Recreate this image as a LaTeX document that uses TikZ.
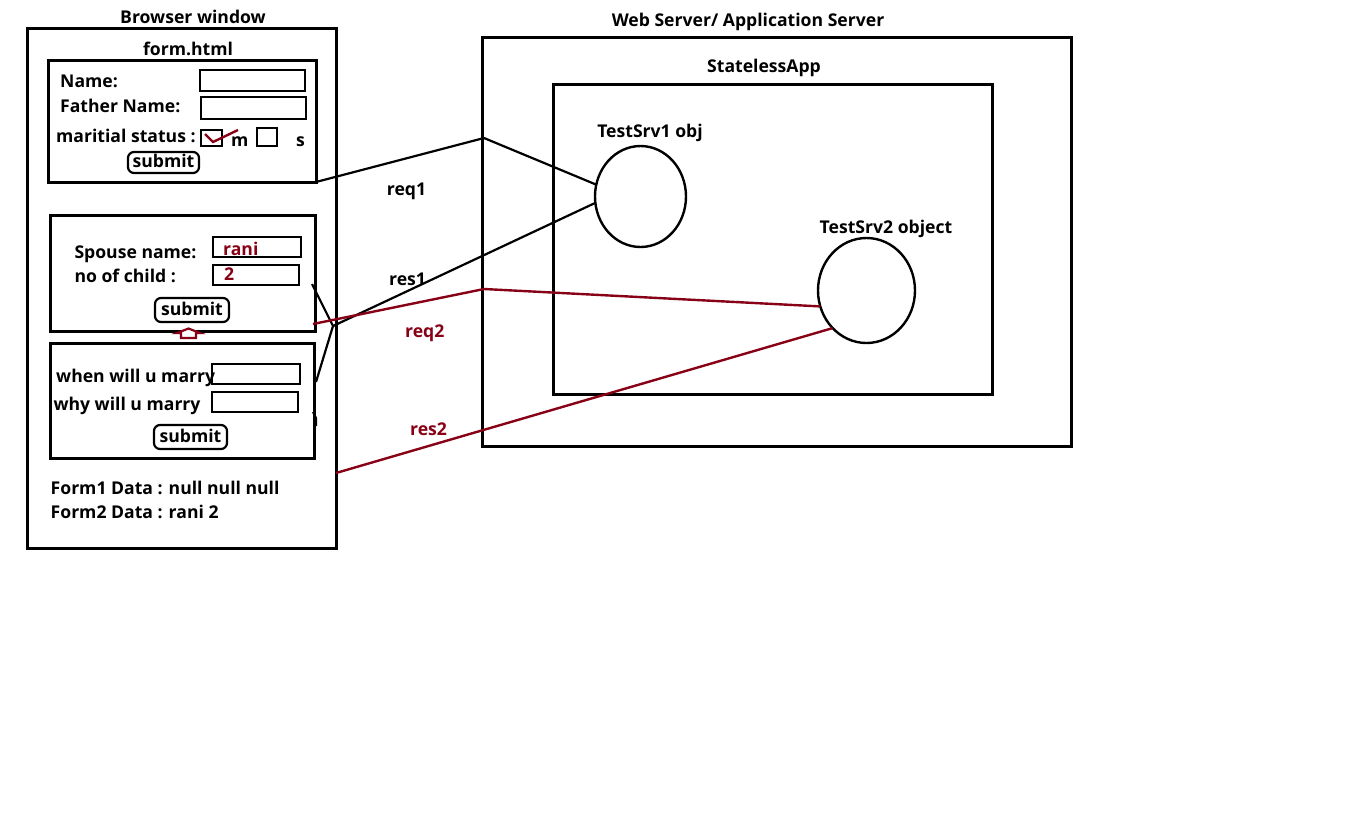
\documentclass[tikz,border=0pt]{standalone}
\usepackage{fontspec}
\setmainfont{Open Sans}
\usetikzlibrary{shapes.geometric}
\definecolor{dred}{RGB}{136,0,21}
\tikzset{
  box/.style={draw, line width=3pt, inner sep=0pt, outer sep=0pt, anchor=north west},
  field/.style={draw, line width=2.6pt, inner sep=0pt, outer sep=0pt, anchor=north west},
  btn/.style={draw, line width=2.2pt, rounded corners=6pt, inner sep=0pt, outer sep=0pt, anchor=north west},
  lbl/.style={anchor=base west, inner sep=0pt, font=\bfseries\fontsize{17.6}{20}\selectfont},
  ctr/.style={anchor=base, inner sep=0pt, font=\bfseries\fontsize{17.6}{20}\selectfont},
  obj/.style={draw, ellipse, line width=2.4pt, inner sep=0pt, outer sep=0pt},
  wire/.style={line width=2.2pt},
  rwire/.style={line width=2.4pt, draw=dred}
}
\begin{document}
\begin{tikzpicture}[x=1pt,y=-1pt]
\useasboundingbox (0,0) rectangle (1358,831);
% browser
\node[ctr] (tbw) at (193,23.5) {Browser window};
\node[box, minimum width=309pt, minimum height=520pt] (bw) at (27,28) {};
\node[ctr] (tform) at (188,55) {form.html};
% form 1
\node[box, minimum width=268pt, minimum height=122pt] (f1) at (48,60) {};
\node[lbl] (lname) at (60,87.2) {Name:};
\node[field, minimum width=105pt, minimum height=21pt] (fname) at (200,70) {};
\node[lbl] (lfather) at (60,112.2) {Father Name:};
\node[field, minimum width=105pt, minimum height=22pt] (ffather) at (201,97) {};
\node[lbl] (lstatus) at (56,142.2) {maritial status :};
\node[field, minimum width=21pt, minimum height=16pt] (cm) at (201,130) {};
\node[lbl] (lm) at (231,146) {m};
\node[field, minimum width=20pt, minimum height=18pt] (cs) at (257,128) {};
\node[lbl] (ls) at (296,146) {s};
\draw[rwire, line width=2.4pt] (cm.north west) ++(4,4) coordinate (ck1) -- ++(8,8) coordinate (ck2) -- (238,130) coordinate (ck3);
\node[btn, minimum width=71pt, minimum height=21pt] (b1) at (128,152) {};
\node[ctr] (tb1) at (b1.center |- 0,167.3) {submit};
% form 2
\node[box, minimum width=265pt, minimum height=116pt] (f2) at (50,215) {};
\node[lbl] (lspouse) at (74.3,258.6) {Spouse name:};
\node[field, minimum width=88pt, minimum height=20pt] (fspouse) at (213,237) {};
\node[lbl, text=dred] (vrani) at (223,255.3) {rani};
\node[lbl] (lchild) at (74.3,282) {no of child :};
\node[field, minimum width=86pt, minimum height=20pt] (fchild) at (213,265) {};
\node[lbl, text=dred] (v2) at (224,280.3) {2};
\node[btn, minimum width=74pt, minimum height=24pt] (b2) at (155,298) {};
\node[ctr] (tb2) at (b2.center |- 0,315.3) {submit};
% little arrow
\draw[dred, line width=2.2pt, fill=white] (181,338) -- (181,333) -- (177,333) -- (188.5,328.5) -- (200,333) -- (196,333) -- (196,338) -- cycle;
% form 3
\node[box, minimum width=264pt, minimum height=115pt] (f3) at (50,343) {};
\node[lbl] (lwhen) at (56,382) {when will u marry};
\node[field, minimum width=88pt, minimum height=20pt] (fwhen) at (212,364) {};
\node[lbl] (lwhy) at (53.3,410.3) {why will u marry};
\node[field, minimum width=86pt, minimum height=20pt] (fwhy) at (212,392) {};
\node[btn, minimum width=73pt, minimum height=24pt] (b3) at (154,425) {};
\node[ctr] (tb3) at (b3.center |- 0,442) {submit};
\node[lbl] (d1) at (50.5,494.3) {Form1 Data : null null null};
\node[lbl] (d2) at (50.5,518.6) {Form2 Data : rani 2};
% server
\node[ctr] (tws) at (748,26.3) {Web Server/ Application Server};
\node[box, minimum width=589pt, minimum height=409pt] (ws) at (482,37) {};
\node[ctr] (tapp) at (764,72) {StatelessApp};
\node[box, minimum width=439pt, minimum height=310pt] (app) at (553,84) {};
\node[ctr] (to1) at (650,137.6) {TestSrv1 obj};
\node[obj, minimum width=91pt, minimum height=101pt] (o1) at (640.5,196.5) {};
\node[ctr] (to2) at (886,233) {TestSrv2 object};
\node[obj, minimum width=97pt, minimum height=105pt] (o2) at (866.5,290.5) {};
% connectors
\coordinate (k1) at (484,138);
\coordinate (k2) at (333,326);
\coordinate (k3) at (312,284);
\coordinate (k4) at (316,382);
\coordinate (k5) at (313,324);
\coordinate (k6) at (484,289);
\coordinate (k7) at (336,473);
\coordinate (k8) at (313,412);
\coordinate (k9) at (316,426);
\draw[wire] (f1.south east) -- (k1) -- (o1.165);
\draw[wire] (o1.188) -- (k2);
\draw[wire] (k3) -- (k2) -- (k4);
\draw[wire] (k8) -- (316,418) -- (k9);
\draw[rwire] (k5) -- (k6) -- (o2.199);
\draw[rwire] (k7) -- (o2.228);
\node[lbl] (treq1) at (386.7,195.3) {req1};
\node[lbl] (tres1) at (389,285.3) {res1};
\node[lbl, text=dred] (treq2) at (405,337) {req2};
\node[lbl, text=dred] (tres2) at (410,435.3) {res2};
\end{tikzpicture}
\end{document}
